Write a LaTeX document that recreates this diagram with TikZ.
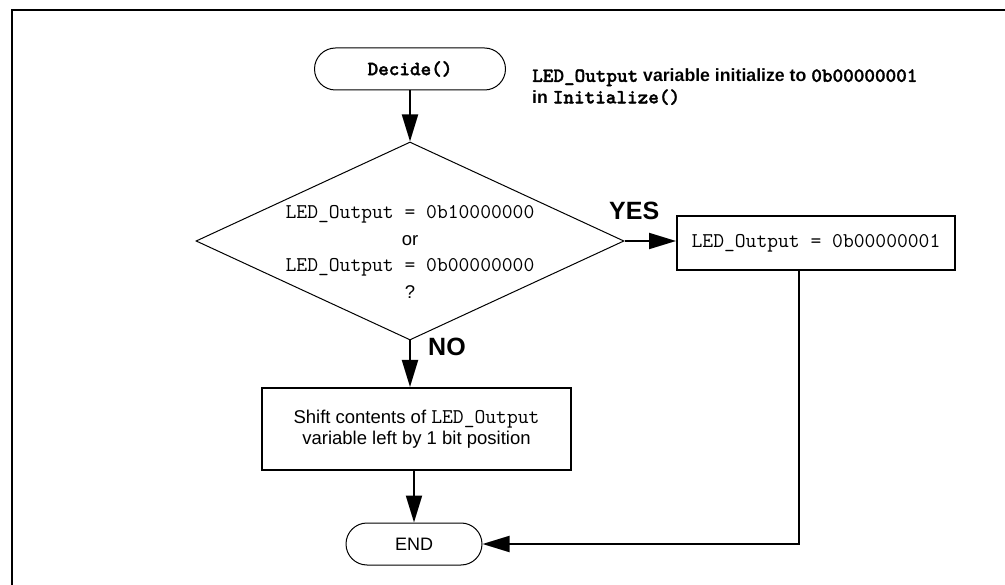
\documentclass[tikz,border=0pt]{standalone}
\usepackage{fontspec}
\setmainfont{Liberation Sans}
\newfontfamily\lmttbold[FakeBold=1.5]{lmmonolt10-bold.otf}
\usetikzlibrary{arrows.meta,shapes.geometric,shapes.misc}
\newcommand{\codetxt}[1]{{\fontsize{21}{21}\selectfont\ttfamily #1}}
\newcommand{\codebf}[1]{{\fontsize{20.2}{21}\selectfont\lmttbold #1}}
\tikzset{
  term/.style={draw, line width=1pt, rounded rectangle, minimum height=42pt, inner sep=0pt},
  procbox/.style={draw, line width=2pt, rectangle, inner sep=0pt, align=center},
  decshape/.style={draw, line width=1pt, diamond, inner sep=0pt, minimum width=428pt, minimum height=198pt},
  conn/.style={line width=2pt, -{Triangle[length=27pt,width=16pt]}},
  lbl/.style={font=\fontsize{25}{30}\selectfont\bfseries, inner sep=0pt},
  txt/.style={inner sep=0pt, font=\fontsize{18.5}{21.5}\selectfont},
}
\begin{document}
\begin{tikzpicture}[x=1pt,y=-1pt]
\useasboundingbox (0,0) rectangle (1005,585);
% frame
\draw[line width=2.5pt] (12,600) -- (12,10) -- (1020,10);
% nodes
\node[term, minimum width=191pt] (decide) at (410,69) {\codebf{Decide()}};
\node[txt, anchor=west, align=left, font=\fontsize{17.7}{21.5}\selectfont\bfseries] (note) at (532,87)
  {\codebf{LED\_Output} variable initialize to \codebf{0b00000001}\\in \codebf{Initialize()}};
\node[decshape] (dec) at (410,241) {};
\node[txt, align=center, font=\fontsize{18.5}{26.7}\selectfont] (dectext) at (410,252)
  {\codetxt{LED\_Output = 0b10000000}\\or\\\codetxt{LED\_Output = 0b00000000}\\?};
\node[procbox, minimum width=278pt, minimum height=54pt, font=\fontsize{18.5}{21.5}\selectfont] (setbox) at (816,243)
  {\codetxt{LED\_Output = 0b00000001}};
\node[procbox, minimum width=309pt, minimum height=82pt, font=\fontsize{18.5}{21.5}\selectfont] (shift) at (416.5,429)
  {Shift contents of \codetxt{LED\_Output}\\variable left by 1 bit position};
\node[term, minimum width=136pt, font=\fontsize{18}{21}\selectfont] (end) at (414,544) {END};
\node[lbl, anchor=west] (yes) at (609,211) {YES};
\node[lbl, anchor=west] (no) at (428,347) {NO};
% connectors
\draw[conn] (decide.south) -- (dec.north);
\draw[conn] (dec.east) -- (dec.east -| setbox.west);
\draw[conn] (dec.south) -- (dec.south |- shift.north);
\draw[conn] (end.north |- shift.south) -- (end.north);
\draw[conn] ([xshift=-17pt]setbox.south) |- (end.east);
\end{tikzpicture}
\end{document}
